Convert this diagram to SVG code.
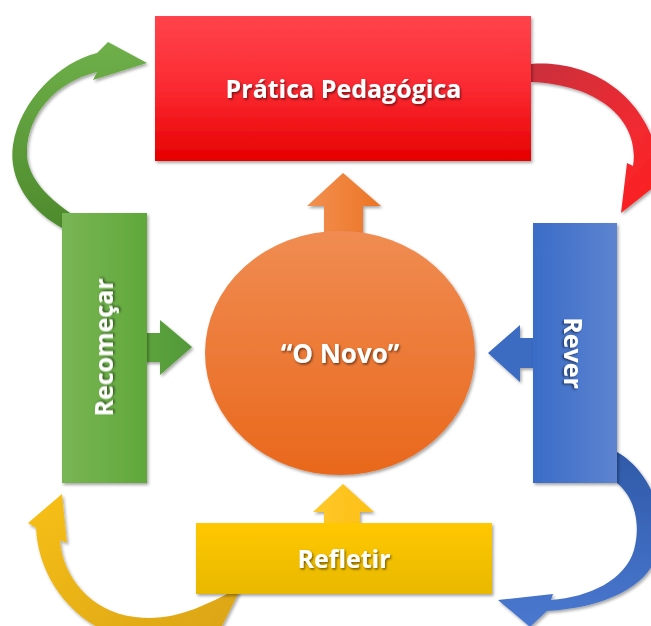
<svg xmlns="http://www.w3.org/2000/svg" width="651" height="626" viewBox="0 0 651 626">
<defs>
<style>
.lbl{font-family:"Open Sans",Lato,"Liberation Sans",sans-serif;font-weight:bold;font-size:25px;fill:#ffffff;filter:url(#tsh)}
.node{filter:url(#sh)}
.conn{filter:url(#sh)}
</style>
<filter id="sh" x="-20%" y="-20%" width="140%" height="140%">
<feDropShadow dx="1.5" dy="2" stdDeviation="1.8" flood-color="#000" flood-opacity="0.35"/>
</filter>
<filter id="tsh" x="-10%" y="-30%" width="120%" height="160%">
<feDropShadow dx="1.2" dy="1.5" stdDeviation="1" flood-color="#000" flood-opacity="0.55"/>
</filter>
<linearGradient id="gRed" x1="0" y1="0" x2="0" y2="1">
<stop offset="0" stop-color="#ff434b"/><stop offset="0.5" stop-color="#fb2a32"/><stop offset="1" stop-color="#e60000"/>
</linearGradient>
<linearGradient id="gGreen" x1="0" y1="0" x2="1" y2="0">
<stop offset="0" stop-color="#79b555"/><stop offset="1" stop-color="#60a83a"/>
</linearGradient>
<linearGradient id="gBlue" x1="0" y1="0" x2="1" y2="0">
<stop offset="0" stop-color="#3a6cc7"/><stop offset="1" stop-color="#5d84d0"/>
</linearGradient>
<linearGradient id="gYellow" x1="0" y1="0" x2="0" y2="1">
<stop offset="0" stop-color="#ffc800"/><stop offset="1" stop-color="#e8b800"/>
</linearGradient>
<linearGradient id="gOrange" x1="0" y1="0" x2="0" y2="1">
<stop offset="0" stop-color="#f08c52"/><stop offset="1" stop-color="#e9681c"/>
</linearGradient>
<linearGradient id="gOrArrow" x1="0" y1="0" x2="1" y2="0">
<stop offset="0" stop-color="#f29050"/><stop offset="1" stop-color="#ec7424"/>
</linearGradient>
<linearGradient id="gYArrow" x1="0" y1="0" x2="1" y2="0">
<stop offset="0" stop-color="#ffc82a"/><stop offset="1" stop-color="#fcc015"/>
</linearGradient>
<linearGradient id="gGArrow" x1="0" y1="0" x2="1" y2="0">
<stop offset="0" stop-color="#5ea53c"/><stop offset="1" stop-color="#52983a"/>
</linearGradient>
<linearGradient id="gCurGreen" x1="0" y1="0" x2="0" y2="1">
<stop offset="0" stop-color="#6fb04a"/><stop offset="1" stop-color="#4d8a2c"/>
</linearGradient>
<linearGradient id="gCurRed" x1="0" y1="0" x2="1" y2="1">
<stop offset="0" stop-color="#c9303c"/><stop offset="0.6" stop-color="#f22a30"/><stop offset="1" stop-color="#ff1a1a"/>
</linearGradient>
<linearGradient id="gCurBlue" x1="0" y1="0" x2="0" y2="1">
<stop offset="0" stop-color="#2f5aa8"/><stop offset="1" stop-color="#4a78d0"/>
</linearGradient>
<linearGradient id="gCurYellow" x1="0" y1="0" x2="1" y2="1">
<stop offset="0" stop-color="#f8c018"/><stop offset="1" stop-color="#d9a312"/>
</linearGradient>
</defs>
<rect width="651" height="626" fill="#ffffff"/>
<g id="connectors">
<path class="conn" d="M97,53 C60,62 20,100 13,145 C8,180 30,212 66,230 L88,224 C55,205 25,180 27,150 C28,115 55,82 97,72 L93,80 L147,63 L108,42 Z" fill="url(#gCurGreen)"/>
<path class="conn" d="M531,64 C580,60 640,85 658,155 L673,172 L621,213 L627,163 L633,166 C640,125 605,85 531,82 Z" fill="url(#gCurRed)"/>
<path class="conn" d="M617,452 C645,468 665,505 660,545 C655,580 615,607 547,611 L530,627 L498,600 L553,594 L551,600 C590,597 625,580 634,550 C642,520 632,495 617,483 Z" fill="url(#gCurBlue)"/>
<path class="conn" d="M62,494 L67,543 L60,540 C62,575 90,612 135,617 C175,622 205,605 235,590 L240,590 L215,640 L130,640 C70,625 38,575 36,528 L28,523 Z" fill="url(#gCurYellow)"/>
<path class="conn" d="M324,240 L324,206 L307,206 L343,173 L381,206 L363,206 L363,240 Z" fill="url(#gOrArrow)"/>
<path class="conn" d="M140,333 L160,333 L160,320 L192,347 L160,375 L160,362 L140,362 Z" fill="url(#gGArrow)"/>
<path class="conn" d="M540,338 L520,338 L520,325 L488,353 L520,382 L520,368 L540,368 Z" fill="#3b6cc2"/>
<path class="conn" d="M324,530 L324,512 L313,512 L343,484 L374,512 L360,512 L360,530 Z" fill="url(#gYArrow)"/>
</g>
<g id="node-pratica">
<rect class="node" x="155" y="16" width="376" height="145" fill="url(#gRed)"/>
<text class="lbl" x="343.5" y="98" text-anchor="middle">Prática Pedagógica</text>
</g>
<g id="node-recomecar">
<rect class="node" x="62" y="213" width="85" height="270" fill="url(#gGreen)"/>
<text class="lbl" transform="translate(113,347.5) rotate(-90)" text-anchor="middle">Recomeçar</text>
</g>
<g id="node-rever">
<rect class="node" x="533" y="223" width="84" height="260" fill="url(#gBlue)"/>
<text class="lbl" transform="translate(564,353) rotate(90)" text-anchor="middle">Rever</text>
</g>
<g id="node-refletir">
<rect class="node" x="196" y="523" width="296" height="71" fill="url(#gYellow)"/>
<text class="lbl" x="344" y="568" text-anchor="middle">Refletir</text>
</g>
<g id="node-novo">
<ellipse class="node" cx="340" cy="353" rx="135" ry="122" fill="url(#gOrange)"/>
<text class="lbl" x="340" y="363" text-anchor="middle" style="font-size:26px">“O Novo”</text>
</g>
</svg>
